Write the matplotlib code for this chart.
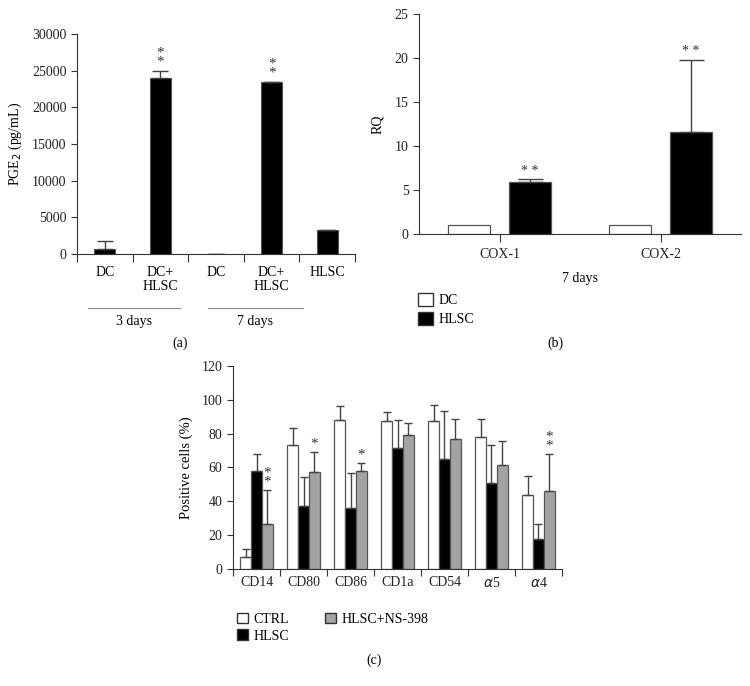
import matplotlib
matplotlib.use('Agg')
import matplotlib.pyplot as plt
import numpy as np
from matplotlib.patches import Patch

plt.rcParams['font.family'] = ['Liberation Serif', 'DejaVu Serif']
plt.rcParams['font.size'] = 10
plt.rcParams['axes.edgecolor'] = '#333333'
plt.rcParams['xtick.color'] = '#333333'
plt.rcParams['ytick.color'] = '#333333'
plt.rcParams['xtick.labelcolor'] = '#222222'
plt.rcParams['ytick.labelcolor'] = '#222222'

# panel (a): PGE2
a_labels = ['DC', 'DC+\nHLSC', 'DC', 'DC+\nHLSC', 'HLSC']
a_values = [650, 23950, 0, 23500, 3300]
a_err = [1150, 1050, 0, 0, 0]
a_stars = ['', '*\n*', '', '*\n*', '']

# panel (b): RQ
b_labels = ['COX-1', 'COX-2']
b_dc = [1.0, 1.0]
b_hlsc = [5.9, 11.6]
b_hlsc_err = [0.3, 8.2]
b_stars = ['* *', '* *']

# panel (c): positive cells
c_labels = ['CD14', 'CD80', 'CD86', 'CD1a', 'CD54', r'$\alpha$5', r'$\alpha$4']
c_ctrl = [7.3, 73.1, 88.1, 87.5, 87.5, 78.2, 43.5]
c_ctrl_err = [4.3, 10.2, 8.3, 5.5, 9.2, 10.5, 11.3]
c_hlsc = [57.9, 37.4, 36.3, 71.7, 65.0, 50.8, 17.9]
c_hlsc_err = [10.1, 16.8, 20.7, 16.2, 28.2, 22.7, 8.5]
c_ns = [26.4, 57.3, 58.1, 79.4, 77.0, 61.3, 45.9]
c_ns_err = [20.3, 11.9, 4.8, 6.7, 11.7, 14.2, 21.9]
c_stars = ['*\n*', '*', '*', '', '', '', '*\n*']

edge = '#555555'
errc = '#444444'

fig = plt.figure(figsize=(7.5, 6.86), dpi=100)

# ---------- (a)
ax = fig.add_axes([0.1027, 0.6297, 0.3706, 0.3207])
xa = np.arange(len(a_values))
lws = [0.8 if v > 0 else 0 for v in a_values]
ax.bar(xa, a_values, width=0.38, color='black', edgecolor=edge, linewidth=lws)
ax.errorbar(xa, a_values, yerr=[np.zeros(len(a_err)), a_err], fmt='none',
            ecolor=errc, elinewidth=1, capsize=6, capthick=1)
for i, s in enumerate(a_stars):
    if s:
        ax.text(xa[i], a_values[i] + a_err[i] + 350, s, ha='center', va='bottom',
                fontsize=11, linespacing=0.6, color='#333333')
ax.set_xlim(-0.5, 4.5)
ax.set_ylim(0, 30000)
ax.set_yticks(np.arange(0, 30001, 5000))
ax.set_xticks(np.arange(-0.5, 5, 1))
ax.set_xticklabels([])
ax.tick_params(axis='x', length=6, direction='out')
ax.tick_params(axis='y', length=4, direction='out')
for i, l in enumerate(a_labels):
    ax.text(xa[i], -0.055, l, transform=ax.get_xaxis_transform(), ha='center',
            va='top', fontsize=10, linespacing=1.1)
ax.set_ylabel('PGE$_2$ (pg/mL)', fontsize=10, labelpad=6)
ax.spines['top'].set_visible(False)
ax.spines['right'].set_visible(False)
tr = ax.get_xaxis_transform()
for x0, x1, txt in [(-0.30, 1.35, '3 days'), (1.86, 3.56, '7 days')]:
    ax.plot([x0, x1], [-0.245, -0.245], transform=tr, color='#888888', lw=0.8,
            clip_on=False)
    ax.text((x0 + x1) / 2, -0.275, txt, transform=tr, ha='center', va='top',
            fontsize=10)

# ---------- (b)
bx = fig.add_axes([0.5587, 0.6589, 0.4293, 0.3207])
xb = np.arange(len(b_labels))
w = 0.26
bx.bar(xb - 0.19, b_dc, width=w, color='white', edgecolor=edge, linewidth=0.9)
bx.bar(xb + 0.19, b_hlsc, width=w, color='black', edgecolor=edge, linewidth=0.9)
bx.errorbar(xb + 0.19, b_hlsc, yerr=[np.zeros(2), b_hlsc_err], fmt='none',
            ecolor=errc, elinewidth=1, capsize=9, capthick=1)
for i, s in enumerate(b_stars):
    bx.text(xb[i] + 0.19, b_hlsc[i] + b_hlsc_err[i] + 0.15, s, ha='center',
            va='bottom', fontsize=10, color='#333333')
bx.set_xlim(-0.5, 1.5)
bx.set_ylim(0, 25)
bx.set_yticks(np.arange(0, 26, 5))
bx.set_xticks(xb)
bx.set_xticklabels(b_labels)
bx.tick_params(axis='x', length=6, direction='out', pad=4)
bx.tick_params(axis='y', length=4, direction='out')
bx.set_ylabel('RQ', fontsize=10, labelpad=8)
bx.set_xlabel('7 days', fontsize=10, labelpad=8)
bx.spines['top'].set_visible(False)
bx.spines['right'].set_visible(False)
hb = [Patch(facecolor='white', edgecolor='#333333', label='DC'),
      Patch(facecolor='black', edgecolor='#333333', label='HLSC')]
fig.legend(handles=hb, loc='upper left', bbox_to_anchor=(0.540, 0.591),
           frameon=False, handlelength=1.1, handleheight=1.1, handletextpad=0.45,
           labelspacing=0.3, fontsize=10)

# ---------- (c)
cx = fig.add_axes([0.3107, 0.1706, 0.4386, 0.2959])
xc = np.arange(len(c_labels))
wc = 0.23
series = [(c_ctrl, c_ctrl_err, 'white', -wc), (c_hlsc, c_hlsc_err, 'black', 0.0),
          (c_ns, c_ns_err, '#a3a3a3', wc)]
for vals, errs, col, off in series:
    cx.bar(xc + off, vals, width=wc, color=col, edgecolor=edge, linewidth=0.9)
    cx.errorbar(xc + off, vals, yerr=[np.zeros(len(errs)), errs], fmt='none',
                ecolor=errc, elinewidth=1, capsize=3, capthick=1)
for i, s in enumerate(c_stars):
    if s:
        cx.text(xc[i] + wc, c_ns[i] + c_ns_err[i] + 0.8, s, ha='center',
                va='bottom', fontsize=11, linespacing=0.6, color='#333333')
cx.set_xlim(-0.5, 6.5)
cx.set_ylim(0, 120)
cx.set_yticks(np.arange(0, 121, 20))
cx.set_xticks(np.arange(-0.5, 7, 1))
cx.set_xticklabels([])
cx.set_xticks(xc, minor=True)
cx.set_xticklabels(c_labels, minor=True)
cx.tick_params(axis='x', which='major', length=5, direction='out')
cx.tick_params(axis='x', which='minor', length=0, pad=5)
cx.tick_params(axis='y', length=4, direction='out')
cx.set_ylabel('Positive cells (%)', fontsize=10.5, labelpad=6)
cx.spines['top'].set_visible(False)
cx.spines['right'].set_visible(False)
hc = [Patch(facecolor='white', edgecolor='#333333', label='CTRL'),
      Patch(facecolor='black', edgecolor='#333333', label='HLSC'),
      Patch(facecolor='#a3a3a3', edgecolor='#333333', label='HLSC+NS-398')]
fig.legend(handles=hc, loc='upper left', bbox_to_anchor=(0.299, 0.125),
           frameon=False, ncol=2, handlelength=0.8, handleheight=0.8,
           handletextpad=0.4, labelspacing=0.25, columnspacing=2.6, fontsize=10)

fig.text(180 / 750, 1 - 343 / 686, '(a)', ha='center', va='center', fontsize=10)
fig.text(555 / 750, 1 - 343 / 686, '(b)', ha='center', va='center', fontsize=10)
fig.text(374 / 750, 1 - 660 / 686, '(c)', ha='center', va='center', fontsize=10)

fig.savefig('out.png', dpi=100)
